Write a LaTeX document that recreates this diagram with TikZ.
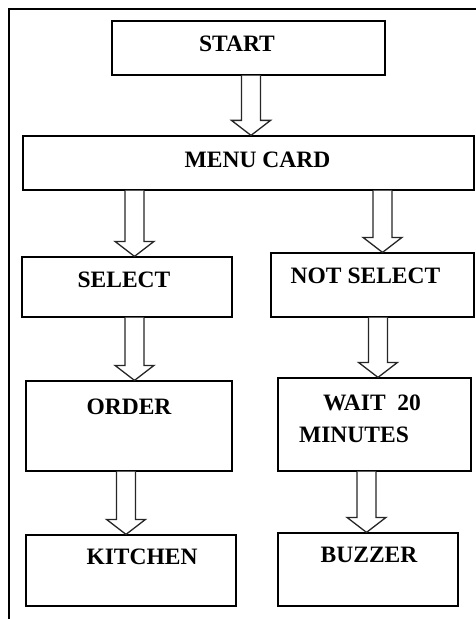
\documentclass[tikz,border=0pt]{standalone}
\usepackage{fontspec}
\setmainfont{Liberation Serif}
\usetikzlibrary{calc}
\tikzset{
  box/.style={draw=black, line width=1.2bp, fill=white, inner sep=0pt, rectangle},
  lbl/.style={font=\fontsize{23.5bp}{28bp}\selectfont\bfseries, inner sep=0pt},
  barrow/.style={draw=black!85, line width=1.3bp, fill=white, line join=miter},
  frame/.style={draw=black, line width=1.6bp}
}
\newcommand\blockarr[3]{%
  \pgfmathsetmacro\xa{#3-9.5}\pgfmathsetmacro\xb{#3+9.5}%
  \pgfmathsetmacro\xc{#3-19.5}\pgfmathsetmacro\xd{#3+19.5}%
  \draw[barrow] (#1.south -| \xa,0) -- ($(#2.north -| \xa,0)+(0,-15)$)
    -- ($(#2.north -| \xc,0)+(0,-15)$) -- (#2.north -| #3,0)
    -- ($(#2.north -| \xd,0)+(0,-15)$) -- ($(#2.north -| \xb,0)+(0,-15)$)
    -- (#1.south -| \xb,0);}
\begin{document}
\begin{tikzpicture}[x=1bp,y=-1bp]
\useasboundingbox (0,0) rectangle (476,619);
\coordinate (fbl) at (9,619);
\coordinate (ftl) at (9,9);
\coordinate (ftr) at (476,9);
\draw[frame] (fbl) -- (ftl) -- (ftr);

\node[box, minimum width=273bp, minimum height=54bp] (start) at (248.5,48) {};
\node[box, minimum width=451bp, minimum height=54bp] (menu) at (248.5,163) {};
\node[box, minimum width=210bp, minimum height=60bp] (select) at (127,287) {};
\node[box, minimum width=203bp, minimum height=64bp] (notsel) at (372.5,285) {};
\node[box, minimum width=206bp, minimum height=90bp] (order) at (129,426) {};
\node[box, minimum width=193bp, minimum height=93bp] (wait) at (374.5,424.5) {};
\node[box, minimum width=210bp, minimum height=71bp] (kitchen) at (131,570.5) {};
\node[box, minimum width=180bp, minimum height=73bp] (buzzer) at (368,569.5) {};

\node[lbl] (tstart) at (237,44) {START};
\node[lbl] (tmenu) at (257.5,160) {MENU CARD};
\node[lbl] (tselect) at (124,280) {SELECT};
\node[lbl] (tnotsel) at (365.5,276) {NOT SELECT};
\node[lbl] (torder) at (129,407) {ORDER};
\node[lbl] (twait) at (372,403) {WAIT\hspace{0.5em}20};
\node[lbl] (tminutes) at (354,435) {MINUTES};
\node[lbl] (tkitchen) at (142,557) {KITCHEN};
\node[lbl] (tbuzzer) at (369,555) {BUZZER};

\blockarr{start}{menu}{251}
\blockarr{menu}{select}{134.5}
\blockarr{menu}{notsel}{382.5}
\blockarr{select}{order}{134.5}
\blockarr{notsel}{wait}{378}
\blockarr{order}{kitchen}{126}
\blockarr{wait}{buzzer}{366.5}
\end{tikzpicture}
\end{document}
